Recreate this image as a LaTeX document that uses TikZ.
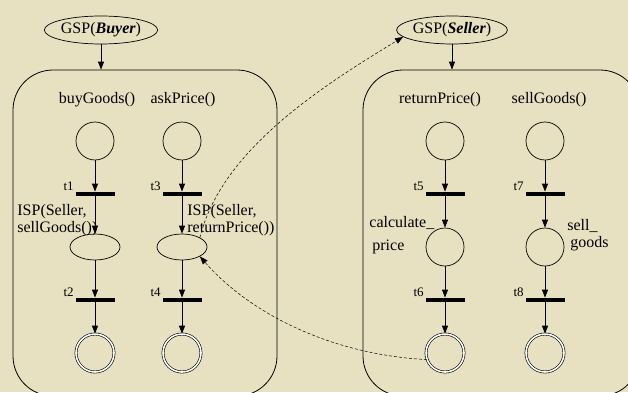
\documentclass[tikz,border=0pt]{standalone}
\usepackage{fontspec}
\setmainfont{Liberation Serif}
\usetikzlibrary{arrows.meta,automata,shapes.geometric,positioning}

\definecolor{paper}{RGB}{231,225,193}
\newcommand{\tfont}{\fontsize{13}{15}\selectfont}

\tikzset{
	every state/.style={draw, circle, minimum size=38pt, inner sep=0pt, line width=0.7pt},
	accepting/.style={double, double distance=1.6pt, line width=0.6pt},
	trans/.style={fill=black, rectangle, minimum width=39pt, minimum height=4pt, inner sep=0pt,
		label={[font=\tfont, inner sep=1pt]north west:#1}},
	msg/.style={draw, ellipse, minimum width=50pt, minimum height=26pt, inner sep=0pt, line width=0.7pt},
	gsp/.style={draw, ellipse, minimum width=102pt, minimum height=28pt, inner sep=0pt, line width=0.7pt},
	proc/.style={draw, rounded corners=40pt, minimum width=#1, minimum height=326pt, line width=0.8pt},
	note/.style={align=left, inner sep=0pt, anchor=north west},
	call/.style={dash pattern=on 3pt off 2pt, line width=0.5pt}
}

\begin{document}
\begin{tikzpicture}[x=1pt, y=1pt, >={Triangle[length=8pt,width=6pt]}, line width=0.8pt,
		node distance=53pt, font=\fontsize{16}{17}\selectfont]
	\useasboundingbox (0,0) rectangle (628,392);
	\clip (0,0) rectangle (628,392);
	\fill [paper] (0,0) rectangle (628,392);

	% Processes and their goals
	\node [proc=264pt] 	(bbuy) 	at (145,159) 	{};
	\node [proc=277pt] 	(bsell) at (501.5,159) 	{};
	\node [gsp] 	(gspb) 	at (101,362) 	{GSP(\textbf{\textit{Buyer}})};
	\node [gsp] 	(gsps) 	at (452,362) 	{GSP(\textbf{\textit{Seller}})};

	% Operation names
	\node (lbuy) 	at (97,292) 	{buyGoods()};
	\node (lask) 	at (183,292) 	{askPrice()};
	\node (lret) 	at (440,292) 	{returnPrice()};
	\node (lsell) 	at (549,292) 	{sellGoods()};

	% Nets {buyGoods, askPrice}
	\node [state] 	(p1) 	at (95,251) 		{};
	\node [trans=t1] 	(t1) [below of=p1] 	{};
	\node [msg] 	(p2) [below of=t1] 	{};
	\node [trans=t2] 	(t2) [below of=p2] 	{};
	\node [state, accepting] (p3) [below of=t2] {};

	\node [state] 	(p4) 	at (182,251) 		{};
	\node [trans=t3] 	(t3) [below of=p4] 	{};
	\node [msg] 	(p5) [below of=t3] 	{};
	\node [trans=t4] 	(t4) [below of=p5] 	{};
	\node [state, accepting] (p6) [below of=t4] {};

	% Nets {returnPrice, sellGoods}
	\node [state] 	(p7) 	at (445,251) 		{};
	\node [trans=t5] 	(t5) [below of=p7] 	{};
	\node [state] 	(p8) [below of=t5] 	{};
	\node [trans=t6] 	(t6) [below of=p8] 	{};
	\node [state, accepting] (p9) [below of=t6] {};

	\node [state] 	(p10) 	at (545,251) 		{};
	\node [trans=t7] 	(t7) [below of=p10] {};
	\node [state] 	(p11) [below of=t7] 	{};
	\node [trans=t8] 	(t8) [below of=p11] {};
	\node [state, accepting] (p12) [below of=t8] {};

	% Place notes
	\node [note] 	(isp1) 	at (17,188) 	{ISP(Seller,\\sellGoods())};
	\node [note] 	(isp2) 	at (187,188) 	{ISP(Seller,\\returnPrice())};
	\node [note] 	(ncalc) at (369,176) 	{calculate\_\\[6pt]\hspace*{3pt}price};
	\node [note] 	(nsell) at (567,173) 	{sell\_\\\hspace*{3pt}goods};

	% Paths
	\path [->]	(gspb) edge (gspb |- bbuy.north)
				(gsps) edge (gsps |- bsell.north)
				(p1) edge (t1)		(t1) edge (p2)
				(p2) edge (t2)		(t2) edge (p3)
				(p4) edge (t3)		(t3) edge (p5)
				(p5) edge (t4)		(t4) edge (p6)
				(p7) edge (t5)		(t5) edge (p8)
				(p8) edge (t6)		(t6) edge (p9)
				(p10) edge (t7)		(t7) edge (p11)
				(p11) edge (t8)		(t8) edge (p12);

	% Calls between the processes
	\draw [call, ->] (p5.north east) .. controls +(22,90) and +(-75,-46) .. (gsps.188);
	\draw [call, ->] (p9.200) .. controls +(-96,5) and +(50,-57) .. (p5.south east);
\end{tikzpicture}
\end{document}
